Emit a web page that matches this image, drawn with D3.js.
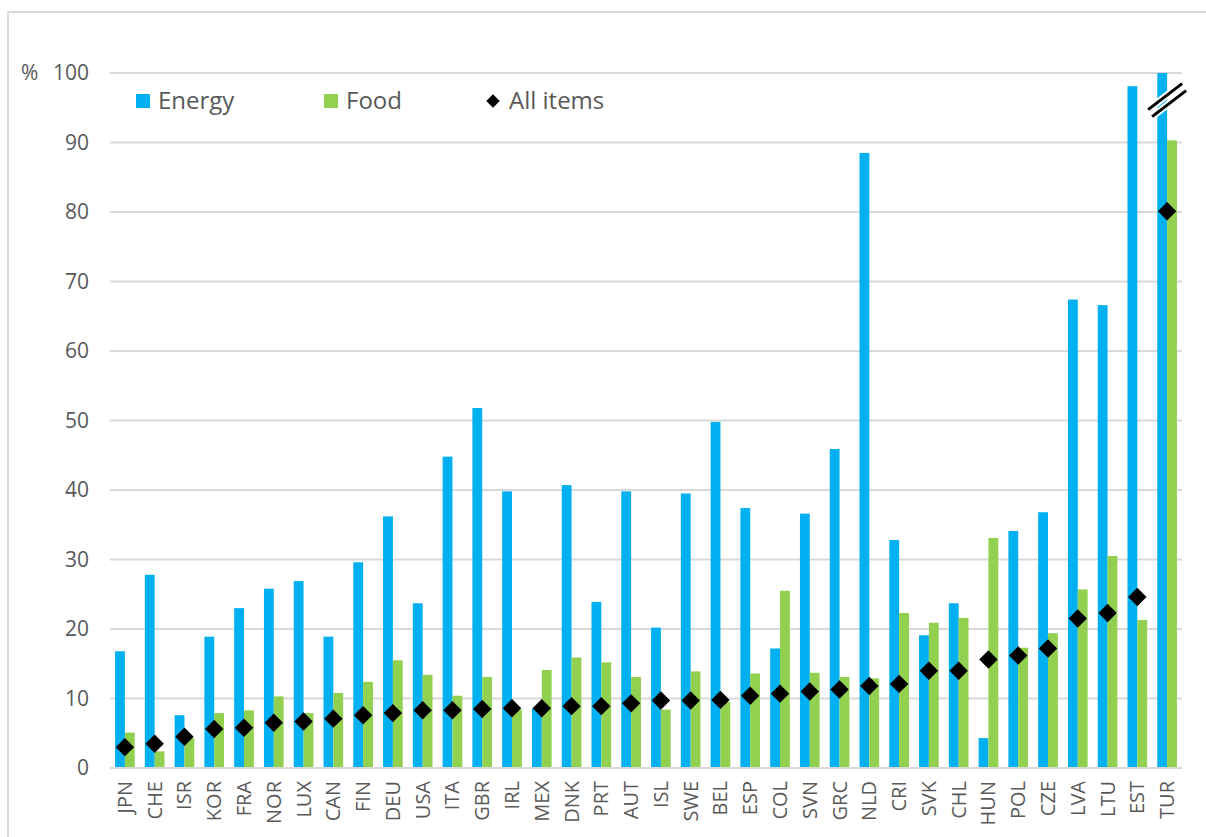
<html>
<head>
  <script src="https://d3js.org/d3.v7.min.js"></script>
  <style>
    body { margin: 0; background: #fff; }
    text { font-family: "Open Sans", sans-serif; fill: #595959; }
  </style>
</head>
<body>
  <div id="chart"></div>
  <script>
    const countries = ["JPN","CHE","ISR","KOR","FRA","NOR","LUX","CAN","FIN","DEU","USA","ITA","GBR","IRL","MEX","DNK","PRT","AUT",
                       "ISL","SWE","BEL","ESP","COL","SVN","GRC","NLD","CRI","SVK","CHL","HUN","POL","CZE","LVA","LTU","EST","TUR"];
    const energy = [16.8,27.8,7.6,18.9,23.0,25.8,26.9,18.9,29.6,36.2,23.7,44.8,51.8,39.8,8.6,40.7,23.9,39.8,
                    20.2,39.5,49.8,37.4,17.2,36.6,45.9,88.5,32.8,19.1,23.7,4.3,34.1,36.8,67.4,66.6,98.1,100];
    const food = [5.1,2.4,4.3,7.9,8.3,10.3,7.9,10.8,12.4,15.5,13.4,10.4,13.1,8.4,14.1,15.9,15.2,13.1,
                  8.4,13.9,9.5,13.6,25.5,13.7,13.1,12.9,22.3,20.9,21.6,33.1,17.3,19.4,25.7,30.5,21.3,90.3];
    const allItems = [3.0,3.5,4.5,5.6,5.8,6.5,6.7,7.1,7.6,7.9,8.3,8.3,8.5,8.6,8.6,8.9,8.9,9.3,
                      9.7,9.7,9.8,10.4,10.7,11.0,11.3,11.8,12.1,14.0,14.0,15.6,16.2,17.2,21.5,22.3,24.6,80.1];
    const yTicks = [0,10,20,30,40,50,60,70,80,90,100];
    const seriesNames = ["Energy", "Food", "All items"];

    const w = 1206, h = 837;
    const energyColor = "#00B0F0", foodColor = "#92D050";

    const svg = d3.select("#chart").append("svg")
      .attr("width", w).attr("height", h);

    // frame
    svg.append("rect")
      .attr("x", 8).attr("y", 12)
      .attr("width", 1400).attr("height", 1000)
      .attr("fill", "none").attr("stroke", "#d9d9d9").attr("stroke-width", 2);

    const xScale = d3.scaleBand()
      .domain(countries)
      .range([110, 1182])
      .paddingInner(0.34)
      .paddingOuter(0.17);

    const sub = d3.scaleBand()
      .domain(["energy", "food"])
      .range([0, xScale.bandwidth()]);

    const yScale = d3.scaleLinear()
      .domain([0, 100])
      .range([768, 73]);

    // gridlines
    svg.append("g")
      .selectAll("line")
      .data(yTicks)
      .enter()
      .append("line")
      .attr("x1", 110).attr("x2", 1182)
      .attr("y1", d => yScale(d)).attr("y2", d => yScale(d))
      .attr("stroke", "#d9d9d9").attr("stroke-width", 2);

    // y labels
    const yAxis = d3.axisLeft(yScale).tickValues(yTicks).tickSize(0).tickPadding(0);
    const yg = svg.append("g")
      .attr("transform", "translate(89,0)")
      .call(yAxis);
    yg.select(".domain").remove();
    yg.selectAll("text")
      .style("font-size", "21px")
      .style("font-family", "'Open Sans', sans-serif")
      .attr("fill", "#595959");

    svg.append("text")
      .attr("x", 21).attr("y", yScale(100))
      .attr("dy", "0.35em")
      .style("font-size", "21px")
      .text("%");

    // bars
    const groups = svg.append("g")
      .selectAll("g")
      .data(countries)
      .enter()
      .append("g")
      .attr("transform", d => "translate(" + xScale(d) + ",0)");

    groups.append("rect")
      .attr("x", sub("energy"))
      .attr("width", sub.bandwidth())
      .attr("y", (d, i) => yScale(energy[i]))
      .attr("height", (d, i) => yScale(0) - yScale(energy[i]))
      .attr("fill", energyColor);

    groups.append("rect")
      .attr("x", sub("food"))
      .attr("width", sub.bandwidth())
      .attr("y", (d, i) => yScale(food[i]))
      .attr("height", (d, i) => yScale(0) - yScale(food[i]))
      .attr("fill", foodColor);

    // baseline
    svg.append("line")
      .attr("x1", 110).attr("x2", 1182)
      .attr("y1", yScale(0)).attr("y2", yScale(0))
      .attr("stroke", "#d9d9d9").attr("stroke-width", 2);

    // diamonds
    const diamond = d3.symbol().type(d3.symbolSquare).size(170);
    svg.append("g")
      .selectAll("path")
      .data(countries)
      .enter()
      .append("path")
      .attr("d", diamond)
      .attr("transform", (d, i) => "translate(" + (xScale(d) + xScale.bandwidth() / 2) + "," + yScale(allItems[i]) + ") rotate(45)")
      .attr("fill", "#000");

    // axis break on TUR energy bar
    const bx = xScale("TUR") + xScale.bandwidth() / 2;
    const breaks = [{ cx: bx - 2, cy: yScale(96.6) }, { cx: bx + 2, cy: yScale(95.6) }];
    breaks.forEach(b => {
      svg.append("line")
        .attr("x1", b.cx - 17).attr("y1", b.cy + 13)
        .attr("x2", b.cx + 17).attr("y2", b.cy - 13)
        .attr("stroke", "#fff").attr("stroke-width", 7);
    });
    breaks.forEach(b => {
      svg.append("line")
        .attr("x1", b.cx - 17).attr("y1", b.cy + 13)
        .attr("x2", b.cx + 17).attr("y2", b.cy - 13)
        .attr("stroke", "#000").attr("stroke-width", 3);
    });

    // x labels
    svg.append("g")
      .selectAll("text")
      .data(countries)
      .enter()
      .append("text")
      .attr("transform", d => "translate(" + (xScale(d) + xScale.bandwidth() / 2) + ",781) rotate(-90)")
      .attr("dy", "0.35em")
      .attr("text-anchor", "end")
      .style("font-size", "20px")
      .text(d => d);

    // legend
    const legend = svg.append("g");
    const legX = [136, 324, 484];
    legend.append("rect").attr("x", legX[0]).attr("y", 94).attr("width", 14).attr("height", 14).attr("fill", energyColor);
    legend.append("rect").attr("x", legX[1]).attr("y", 94).attr("width", 14).attr("height", 14).attr("fill", foodColor);
    legend.append("path")
      .attr("d", d3.symbol().type(d3.symbolSquare).size(90))
      .attr("transform", "translate(" + (legX[2] + 9) + ",101) rotate(45)")
      .attr("fill", "#000");
    legend.selectAll("text.leg")
      .data(seriesNames)
      .enter()
      .append("text")
      .attr("class", "leg")
      .attr("x", (d, i) => legX[i] + (i === 2 ? 25 : 22))
      .attr("y", 101)
      .attr("dy", "0.35em")
      .style("font-size", "24px")
      .text(d => d);
  </script>
</body>
</html>
